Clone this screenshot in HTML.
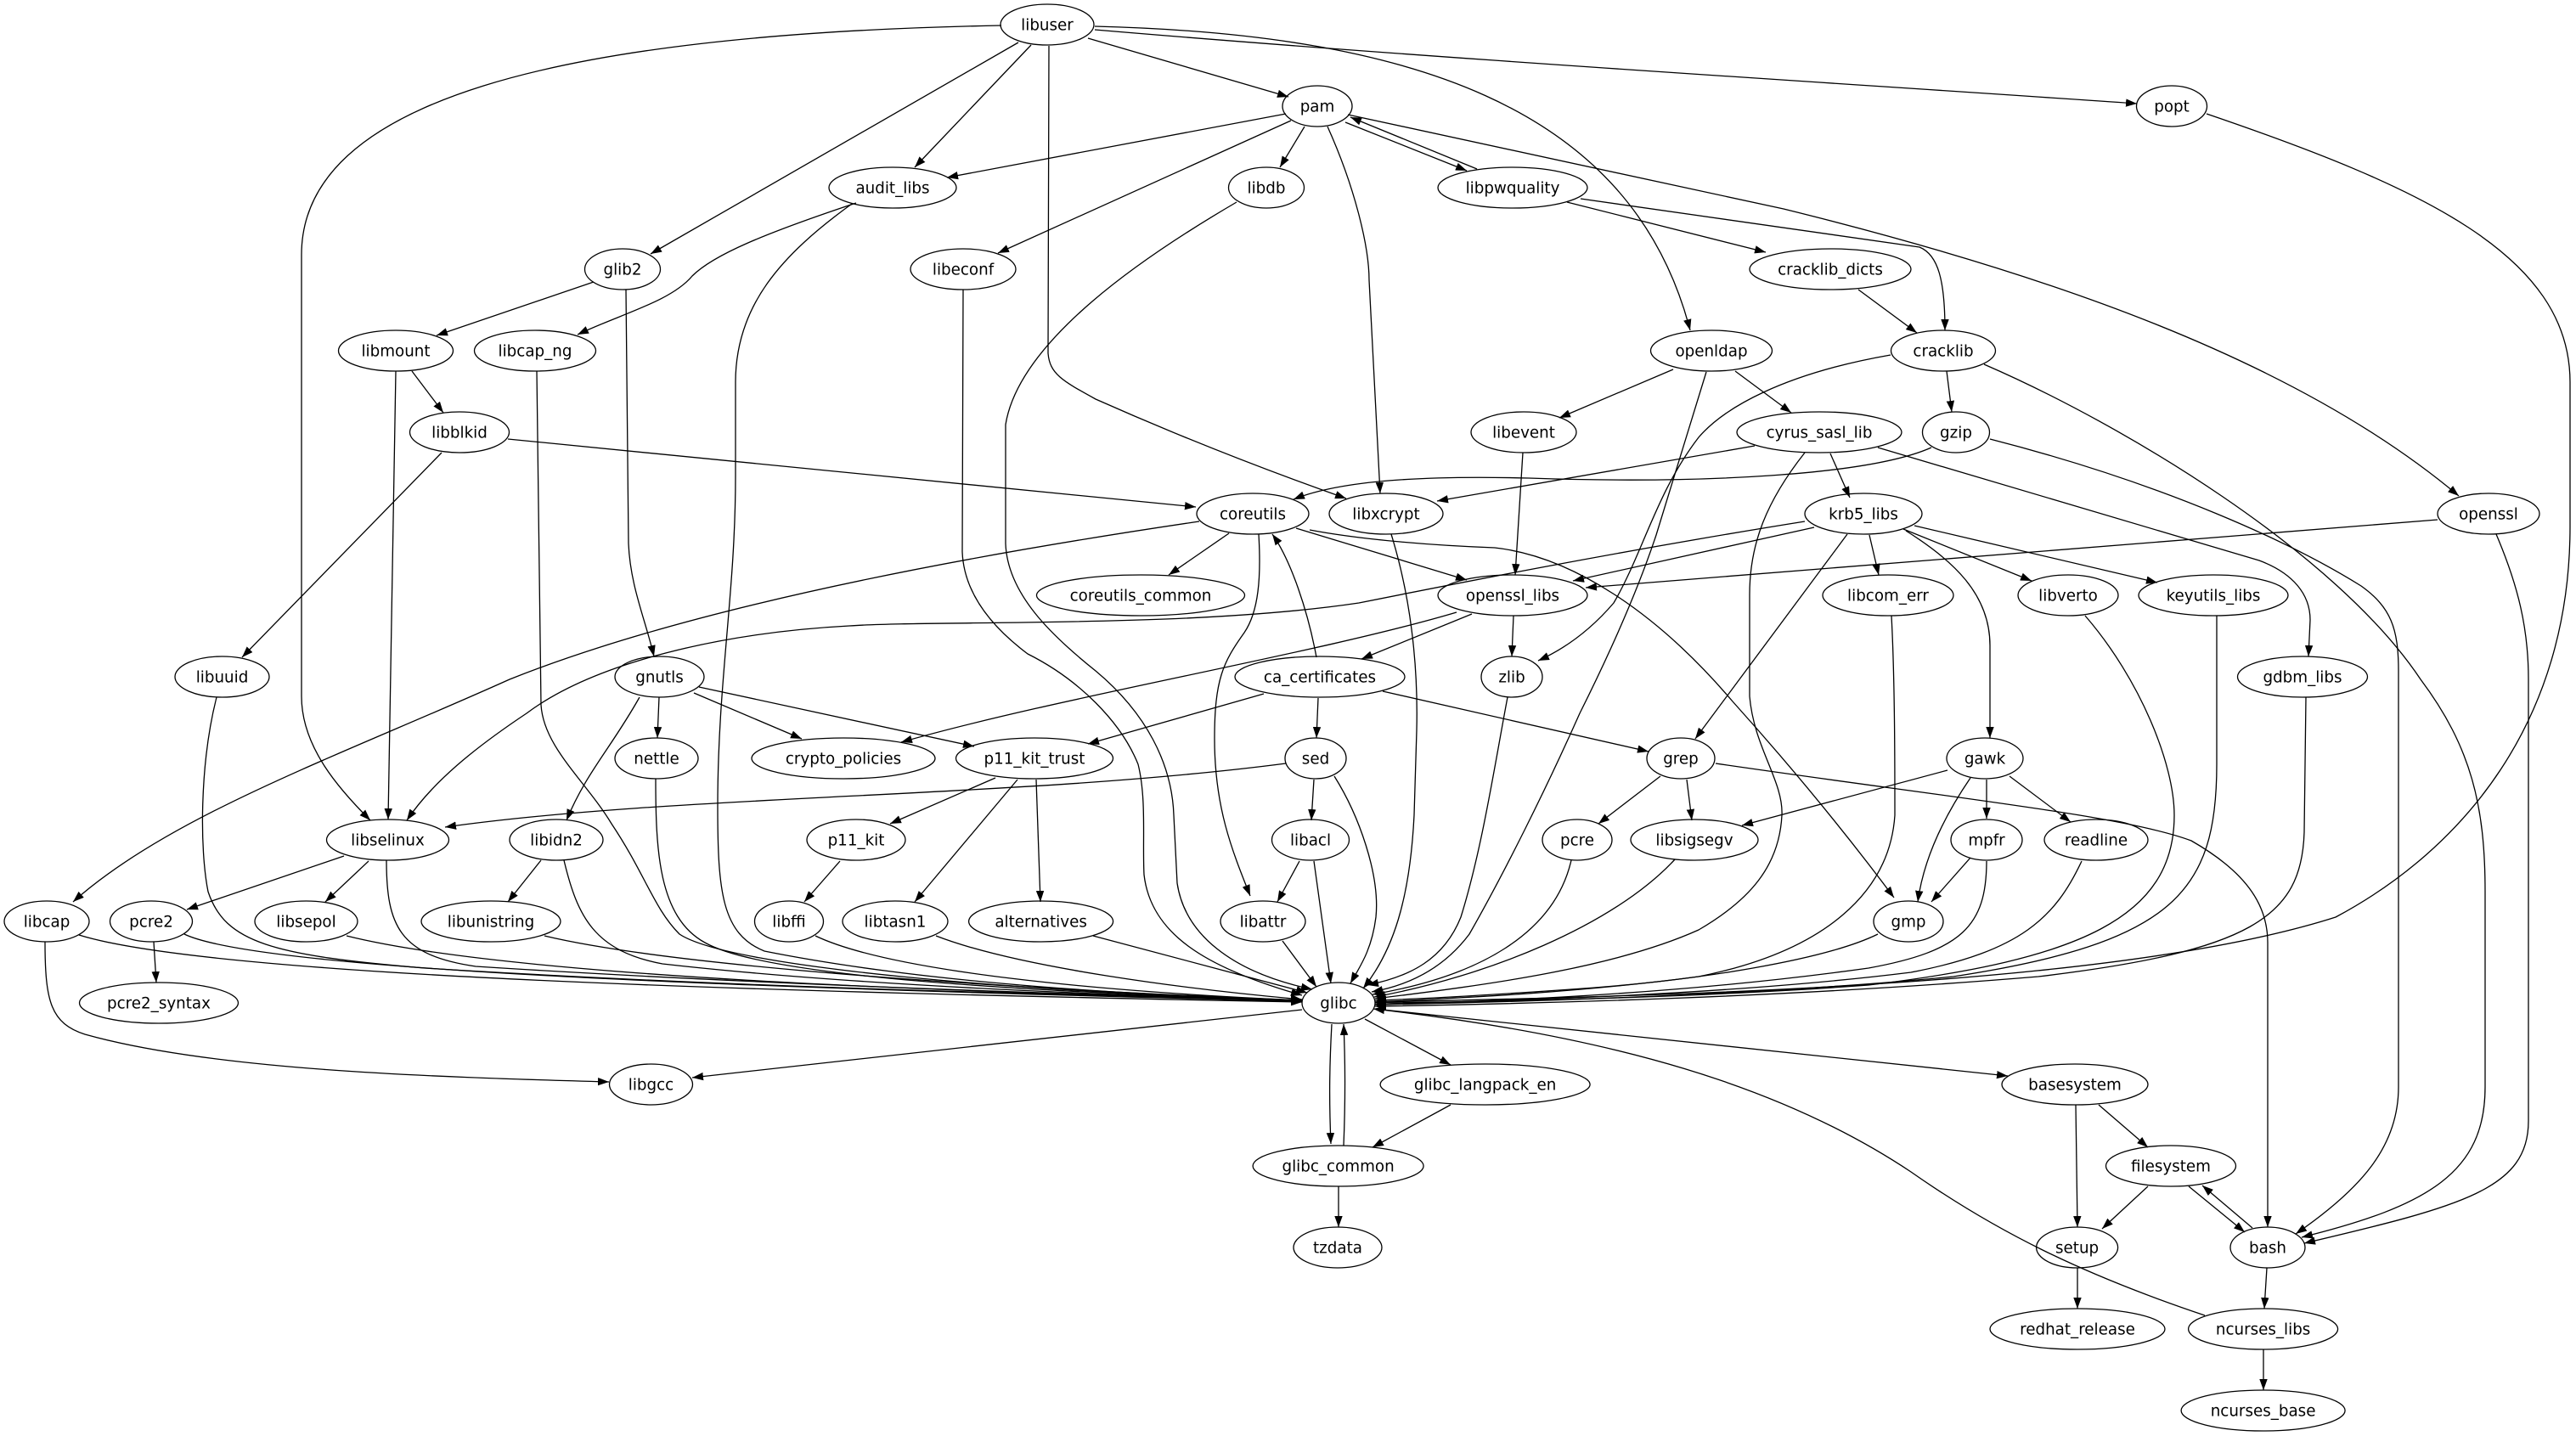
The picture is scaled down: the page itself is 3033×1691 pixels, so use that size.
<!DOCTYPE html>
<html><head><meta charset="utf-8"><style>
html,body{margin:0;padding:0;background:#fff;}
svg{display:block;}
text{font-family:"DejaVu Sans","Liberation Sans",sans-serif;font-size:18.3px;fill:#000;text-anchor:middle;}
.e{fill:none;stroke:#000;stroke-width:1.3;marker-end:url(#ah);}
.n{fill:none;stroke:#000;stroke-width:1.3;}
</style></head><body>
<svg width="3033" height="1691" viewBox="0 0 3033 1691" xmlns="http://www.w3.org/2000/svg">
<defs><marker id="ah" viewBox="0 0 13 10" markerWidth="13" markerHeight="10" refX="13" refY="5" orient="auto" markerUnits="userSpaceOnUse"><path d="M0,0.3 L13,5 L0,9.7 z" fill="#000"/></marker></defs>
<rect width="3033" height="1691" fill="#fff"/>
<g>
<path class="e" d="M1281,45 L1517,114"/>
<path class="e" d="M1289,35 C1700,70 2200,100 2516,122"/>
<path class="e" d="M1214,53 L1077,197"/>
<path class="e" d="M1199,50 L766,299"/>
<path class="e" d="M1179,30 C650,40 355,120 355,300 L355,820 C355,880 400,930 436,966"/>
<path class="e" d="M1289,31 C1650,40 1920,120 1990,389"/>
<path class="e" d="M1235,54 L1234,416 C1236,440 1250,448 1290,470 C1380,510 1480,550 1585,587"/>
<path class="e" d="M1514,134 L1115,209"/>
<path class="e" d="M1520,142 L1175,298"/>
<path class="e" d="M1536,149 L1507,197"/>
<path class="e" d="M1563,149 C1595,220 1612,290 1612,330 L1625,581"/>
<path class="e" d="M1584,144 L1727,201"/>
<path class="e" d="M1739,199 L1590,138"/>
<path class="e" d="M1587,135 L2100,246 C2400,320 2700,420 2895,584"/>
<path class="e" d="M1845,238 L2079,297"/>
<path class="e" d="M1861,234 L2260,291 C2282,300 2290,330 2290,389"/>
<path class="e" d="M1008,239 C900,275 840,300 815,325 C790,355 730,370 680,394"/>
<path class="e" d="M1003,240 C920,300 866,360 866,450 L866,560 C866,700 845,800 845,950 C845,1050 850,1100 900,1120 C1100,1160 1350,1172 1533,1178"/>
<path class="e" d="M1456,238 C1350,300 1200,400 1184,500 L1184,640 C1186,700 1240,750 1290,790 C1350,840 1380,900 1382,960 L1386,1040 C1395,1100 1450,1145 1545,1165"/>
<path class="e" d="M1134,341 L1133,650 C1135,700 1170,740 1210,770 C1270,800 1320,850 1340,900 C1350,940 1345,990 1347,1030 C1355,1100 1420,1140 1533,1172"/>
<path class="e" d="M255,821 C235,900 235,1000 245,1050 C265,1110 320,1125 500,1140 C900,1165 1300,1172 1533,1178"/>
<path class="e" d="M93,1101 C250,1150 900,1168 1533,1180"/>
<path class="e" d="M53,1109 C53,1180 60,1205 100,1218 C250,1260 500,1268 717,1274"/>
<path class="e" d="M217,1100 C300,1140 800,1162 1533,1179"/>
<path class="e" d="M181,1109 L184,1157"/>
<path class="e" d="M455,1013 C455,1090 470,1125 560,1138 C900,1160 1300,1172 1533,1178"/>
<path class="e" d="M405,1008 L220,1071"/>
<path class="e" d="M434,1014 L383,1062"/>
<path class="e" d="M408,1102 C600,1150 1100,1168 1533,1178"/>
<path class="e" d="M637,1013 L598,1062"/>
<path class="e" d="M664,1013 C680,1080 700,1120 780,1135 C1000,1160 1300,1172 1533,1178"/>
<path class="e" d="M641,1102 C800,1140 1200,1165 1533,1178"/>
<path class="e" d="M632,437 L637,830 C640,880 690,920 720,970 C760,1030 770,1070 800,1100 C860,1140 1200,1168 1533,1178"/>
<path class="e" d="M737,341 L740,640 C742,690 760,730 770,773"/>
<path class="e" d="M776,821 L774,869"/>
<path class="e" d="M753,821 C720,880 690,910 667,966"/>
<path class="e" d="M817,816 L944,870"/>
<path class="e" d="M823,809 L1147,879"/>
<path class="e" d="M772,917 C772,1000 775,1080 830,1110 C900,1150 1200,1168 1533,1178"/>
<path class="e" d="M466,437 L457,965"/>
<path class="e" d="M485,437 L522,486"/>
<path class="e" d="M699,332 L514,395"/>
<path class="e" d="M520,533 L285,774"/>
<path class="e" d="M598,517 L1408,597"/>
<path class="e" d="M1715,721 C1550,770 1250,820 1061,874"/>
<path class="e" d="M1172,916 L1048,970"/>
<path class="e" d="M1198,918 L1077,1062"/>
<path class="e" d="M1220,918 L1225,1062"/>
<path class="e" d="M989,1014 L947,1062"/>
<path class="e" d="M960,1102 C1050,1145 1300,1168 1533,1178"/>
<path class="e" d="M1102,1102 C1200,1140 1400,1165 1533,1177"/>
<path class="e" d="M1287,1102 L1539,1169"/>
<path class="e" d="M1510,1108 L1550,1162"/>
<path class="e" d="M1530,1014 L1504,1062"/>
<path class="e" d="M1547,1014 L1567,1158"/>
<path class="e" d="M1547,918 L1544,966"/>
<path class="e" d="M1571,914 C1600,960 1625,1030 1620,1080 C1615,1120 1600,1140 1590,1158"/>
<path class="e" d="M1514,899 C1200,940 800,935 524,974"/>
<path class="e" d="M1552,822 L1550,869"/>
<path class="e" d="M1488,817 L1281,876"/>
<path class="e" d="M1628,814 L1941,885"/>
<path class="e" d="M1550,774 C1540,720 1520,660 1498,629"/>
<path class="e" d="M1447,628 L1376,677"/>
<path class="e" d="M1526,622 L1727,683"/>
<path class="e" d="M1482,629 C1485,680 1482,720 1465,745 C1440,780 1430,800 1430,870 C1430,950 1450,1000 1472,1055"/>
<path class="e" d="M1412,614 C1100,660 800,720 600,800 C400,890 200,960 86,1062"/>
<path class="e" d="M1542,624 C1600,635 1680,642 1760,645 C1850,655 1950,720 2040,826 C2120,915 2180,990 2230,1057"/>
<path class="e" d="M1638,629 C1660,700 1670,780 1668,860 L1665,960 C1660,1060 1640,1120 1605,1164"/>
<path class="e" d="M2009,438 L1950,630 C1930,690 1900,760 1860,840 C1820,930 1770,1030 1730,1100 C1700,1140 1660,1160 1615,1168"/>
<path class="e" d="M2226,418 C2100,440 2030,480 2000,515 C1950,580 1935,650 1900,710 C1870,745 1840,765 1811,778"/>
<path class="e" d="M1793,533 L1784,677"/>
<path class="e" d="M1970,435 L1836,492"/>
<path class="e" d="M2043,437 L2109,486"/>
<path class="e" d="M2188,341 L2257,392"/>
<path class="e" d="M2292,437 L2298,485"/>
<path class="e" d="M2336,429 C2500,500 2750,650 2850,800 C2910,880 2926,950 2926,1050 L2926,1280 C2926,1380 2860,1420 2710,1457"/>
<path class="e" d="M2343,517 C2550,570 2700,640 2780,690 C2815,715 2824,740 2824,790 L2824,1280 C2824,1350 2780,1400 2703,1453"/>
<path class="e" d="M2939,629 C2965,690 2977,740 2977,800 L2977,1320 C2977,1400 2900,1420 2713,1464"/>
<path class="e" d="M2020,899 C2300,940 2500,960 2580,990 C2650,1030 2670,1070 2670,1110 L2670,1445"/>
<path class="e" d="M2598,134 C2850,220 3026,300 3026,450 L3026,620 C3026,850 2900,1000 2750,1080 C2500,1160 2000,1172 1619,1180"/>
<path class="e" d="M2211,527 L2660,660 C2700,675 2720,700 2720,730 L2718,773"/>
<path class="e" d="M2066,525 L1692,590"/>
<path class="e" d="M2155,534 L2178,586"/>
<path class="e" d="M2125,533 C2080,590 2060,640 2060,700 L2060,820 C2065,880 2100,920 2098,960 C2095,1020 2060,1060 2000,1095 C1900,1140 1750,1160 1619,1176"/>
<path class="e" d="M2274,527 C2200,560 2000,570 1800,563 C1680,560 1580,565 1523,588"/>
<path class="e" d="M2136,621 L1852,684"/>
<path class="e" d="M2125,614 C1900,650 1700,690 1600,710 C1400,740 1100,730 1000,737 C850,745 700,780 620,840 C560,880 510,920 479,966"/>
<path class="e" d="M2870,612 L1867,692"/>
<path class="e" d="M2201,630 L2212,677"/>
<path class="e" d="M2241,623 L2392,684"/>
<path class="e" d="M2254,619 L2540,686"/>
<path class="e" d="M2244,625 C2300,660 2343,700 2343,760 L2343,869"/>
<path class="e" d="M2175,629 L1996,870"/>
<path class="e" d="M2227,725 C2231,800 2231,900 2231,960 C2225,1050 2150,1120 2000,1150 C1850,1170 1700,1176 1619,1180"/>
<path class="e" d="M2455,725 C2520,800 2560,900 2560,960 C2560,1080 2450,1130 2200,1160 C2000,1175 1750,1180 1619,1181"/>
<path class="e" d="M2610,725 L2610,900 C2610,1050 2560,1110 2300,1150 C2100,1170 1800,1180 1619,1183"/>
<path class="e" d="M2715,821 L2713,980 C2710,1080 2650,1120 2400,1150 C2100,1175 1800,1182 1619,1185"/>
<path class="e" d="M2293,907 L2051,972"/>
<path class="e" d="M2320,916 C2290,960 2265,1010 2258,1062"/>
<path class="e" d="M2339,918 L2339,964"/>
<path class="e" d="M2366,914 L2438,968"/>
<path class="e" d="M2320,1010 L2274,1062"/>
<path class="e" d="M2339,1014 C2339,1090 2310,1120 2200,1140 C2000,1168 1800,1178 1619,1183"/>
<path class="e" d="M2451,1014 C2420,1080 2380,1120 2250,1145 C2050,1170 1800,1178 1619,1183"/>
<path class="e" d="M2211,1100 C2150,1130 2000,1155 1850,1165 C1750,1172 1680,1176 1619,1178"/>
<path class="e" d="M1955,914 L1882,970"/>
<path class="e" d="M1986,918 L1992,966"/>
<path class="e" d="M1850,1013 C1830,1100 1740,1150 1616,1171"/>
<path class="e" d="M1972,1012 C1900,1090 1750,1150 1618,1174"/>
<path class="e" d="M1775,821 C1760,900 1745,1000 1720,1080 C1700,1130 1660,1150 1610,1160"/>
<path class="e" d="M1782,725 L1780,773"/>
<path class="e" d="M1733,723 L1603,776"/>
<path class="e" d="M1533,1189 L815,1269"/>
<path class="e" d="M1568,1206 C1565,1260 1565,1300 1567,1347"/>
<path class="e" d="M1582,1349 C1584,1300 1584,1250 1582,1206"/>
<path class="e" d="M1607,1200 L1708,1254"/>
<path class="e" d="M1708,1301 L1616,1351"/>
<path class="e" d="M1576,1397 L1576,1445"/>
<path class="e" d="M1628,1189 L2364,1267"/>
<path class="e" d="M2596,1549 C2450,1500 2350,1450 2250,1380 C2100,1280 1900,1220 1617,1188"/>
<path class="e" d="M2471,1301 L2529,1351"/>
<path class="e" d="M2444,1301 L2446,1445"/>
<path class="e" d="M2529,1397 L2475,1447"/>
<path class="e" d="M2577,1397 L2643,1451"/>
<path class="e" d="M2652,1446 L2593,1396"/>
<path class="e" d="M2446,1493 L2446,1541"/>
<path class="e" d="M2669,1493 L2666,1541"/>
<path class="e" d="M2665,1589 L2665,1637"/>
</g>
<g>
<ellipse class="n" cx="1233" cy="29" rx="55" ry="24"/><text x="1233" y="35.5">libuser</text>
<ellipse class="n" cx="1551" cy="125" rx="41" ry="24"/><text x="1551" y="131.5">pam</text>
<ellipse class="n" cx="2557" cy="125" rx="41.5" ry="24"/><text x="2557" y="131.5">popt</text>
<ellipse class="n" cx="1051" cy="221" rx="75" ry="24"/><text x="1051" y="227.5">audit_libs</text>
<ellipse class="n" cx="1491" cy="221" rx="44.5" ry="24"/><text x="1491" y="227.5">libdb</text>
<ellipse class="n" cx="1781" cy="221" rx="88" ry="24"/><text x="1781" y="227.5">libpwquality</text>
<ellipse class="n" cx="733" cy="317" rx="44.5" ry="24"/><text x="733" y="323.5">glib2</text>
<ellipse class="n" cx="1134" cy="317" rx="62" ry="24"/><text x="1134" y="323.5">libeconf</text>
<ellipse class="n" cx="2155" cy="317" rx="95" ry="24"/><text x="2155" y="323.5">cracklib_dicts</text>
<ellipse class="n" cx="466" cy="413" rx="67.5" ry="24"/><text x="466" y="419.5">libmount</text>
<ellipse class="n" cx="630" cy="413" rx="71.5" ry="24"/><text x="630" y="419.5">libcap_ng</text>
<ellipse class="n" cx="2015" cy="413" rx="71.5" ry="24"/><text x="2015" y="419.5">openldap</text>
<ellipse class="n" cx="2288" cy="413" rx="61.5" ry="24"/><text x="2288" y="419.5">cracklib</text>
<ellipse class="n" cx="541" cy="509" rx="58.5" ry="24"/><text x="541" y="515.5">libblkid</text>
<ellipse class="n" cx="1794" cy="509" rx="62" ry="24"/><text x="1794" y="515.5">libevent</text>
<ellipse class="n" cx="2142" cy="509" rx="97" ry="24"/><text x="2142" y="515.5">cyrus_sasl_lib</text>
<ellipse class="n" cx="2303" cy="509" rx="39.5" ry="24"/><text x="2303" y="515.5">gzip</text>
<ellipse class="n" cx="1475" cy="605" rx="66" ry="24"/><text x="1475" y="611.5">coreutils</text>
<ellipse class="n" cx="1632" cy="605" rx="67" ry="24"/><text x="1632" y="611.5">libxcrypt</text>
<ellipse class="n" cx="2194" cy="605" rx="69" ry="24"/><text x="2194" y="611.5">krb5_libs</text>
<ellipse class="n" cx="2930" cy="605" rx="60" ry="24"/><text x="2930" y="611.5">openssl</text>
<ellipse class="n" cx="1343" cy="701" rx="122.5" ry="24"/><text x="1343" y="707.5">coreutils_common</text>
<ellipse class="n" cx="1781" cy="701" rx="88" ry="24"/><text x="1781" y="707.5">openssl_libs</text>
<ellipse class="n" cx="2223" cy="701" rx="77" ry="24"/><text x="2223" y="707.5">libcom_err</text>
<ellipse class="n" cx="2435" cy="701" rx="59" ry="24"/><text x="2435" y="707.5">libverto</text>
<ellipse class="n" cx="2606" cy="701" rx="88" ry="24"/><text x="2606" y="707.5">keyutils_libs</text>
<ellipse class="n" cx="261.5" cy="797" rx="55.5" ry="24"/><text x="261.5" y="803.5">libuuid</text>
<ellipse class="n" cx="776.5" cy="797" rx="52.5" ry="24"/><text x="776.5" y="803.5">gnutls</text>
<ellipse class="n" cx="1554" cy="797" rx="100" ry="24"/><text x="1554" y="803.5">ca_certificates</text>
<ellipse class="n" cx="1780" cy="797" rx="36" ry="24"/><text x="1780" y="803.5">zlib</text>
<ellipse class="n" cx="2711" cy="797" rx="76.5" ry="24"/><text x="2711" y="803.5">gdbm_libs</text>
<ellipse class="n" cx="773" cy="893" rx="49" ry="24"/><text x="773" y="899.5">nettle</text>
<ellipse class="n" cx="993" cy="893" rx="108" ry="24"/><text x="993" y="899.5">crypto_policies</text>
<ellipse class="n" cx="1218" cy="893" rx="92.5" ry="24"/><text x="1218" y="899.5">p11_kit_trust</text>
<ellipse class="n" cx="1549" cy="893" rx="36" ry="24"/><text x="1549" y="899.5">sed</text>
<ellipse class="n" cx="1979" cy="893" rx="40" ry="24"/><text x="1979" y="899.5">grep</text>
<ellipse class="n" cx="2337" cy="893" rx="45" ry="24"/><text x="2337" y="899.5">gawk</text>
<ellipse class="n" cx="456.5" cy="989" rx="72" ry="24"/><text x="456.5" y="995.5">libselinux</text>
<ellipse class="n" cx="655" cy="989" rx="55" ry="24"/><text x="655" y="995.5">libidn2</text>
<ellipse class="n" cx="1008" cy="989" rx="58" ry="24"/><text x="1008" y="995.5">p11_kit</text>
<ellipse class="n" cx="1543" cy="989" rx="45.5" ry="24"/><text x="1543" y="995.5">libacl</text>
<ellipse class="n" cx="1857" cy="989" rx="41" ry="24"/><text x="1857" y="995.5">pcre</text>
<ellipse class="n" cx="1995" cy="989" rx="75" ry="24"/><text x="1995" y="995.5">libsigsegv</text>
<ellipse class="n" cx="2339" cy="989" rx="42" ry="24"/><text x="2339" y="995.5">mpfr</text>
<ellipse class="n" cx="2468" cy="989" rx="61" ry="24"/><text x="2468" y="995.5">readline</text>
<ellipse class="n" cx="55" cy="1085" rx="50" ry="24"/><text x="55" y="1091.5">libcap</text>
<ellipse class="n" cx="178" cy="1085" rx="48.5" ry="24"/><text x="178" y="1091.5">pcre2</text>
<ellipse class="n" cx="360.5" cy="1085" rx="60.5" ry="24"/><text x="360.5" y="1091.5">libsepol</text>
<ellipse class="n" cx="578" cy="1085" rx="82" ry="24"/><text x="578" y="1091.5">libunistring</text>
<ellipse class="n" cx="929" cy="1085" rx="40.5" ry="24"/><text x="929" y="1091.5">libffi</text>
<ellipse class="n" cx="1054" cy="1085" rx="62" ry="24"/><text x="1054" y="1091.5">libtasn1</text>
<ellipse class="n" cx="1225.6" cy="1085" rx="85" ry="24"/><text x="1225.6" y="1091.5">alternatives</text>
<ellipse class="n" cx="1487" cy="1085" rx="50" ry="24"/><text x="1487" y="1091.5">libattr</text>
<ellipse class="n" cx="2247" cy="1085" rx="41" ry="24"/><text x="2247" y="1091.5">gmp</text>
<ellipse class="n" cx="1576" cy="1181" rx="43" ry="24"/><text x="1576" y="1187.5">glibc</text>
<ellipse class="n" cx="187" cy="1181" rx="93.5" ry="24"/><text x="187" y="1187.5">pcre2_syntax</text>
<ellipse class="n" cx="766.5" cy="1277" rx="49" ry="24"/><text x="766.5" y="1283.5">libgcc</text>
<ellipse class="n" cx="1748.6" cy="1277" rx="123.5" ry="24"/><text x="1748.6" y="1283.5">glibc_langpack_en</text>
<ellipse class="n" cx="2443" cy="1277" rx="86" ry="24"/><text x="2443" y="1283.5">basesystem</text>
<ellipse class="n" cx="1575.6" cy="1373" rx="100.5" ry="24"/><text x="1575.6" y="1379.5">glibc_common</text>
<ellipse class="n" cx="2556" cy="1373" rx="76.5" ry="24"/><text x="2556" y="1379.5">filesystem</text>
<ellipse class="n" cx="1575" cy="1469" rx="52" ry="24"/><text x="1575" y="1475.5">tzdata</text>
<ellipse class="n" cx="2445.6" cy="1469" rx="48" ry="24"/><text x="2445.6" y="1475.5">setup</text>
<ellipse class="n" cx="2670" cy="1469" rx="44" ry="24"/><text x="2670" y="1475.5">bash</text>
<ellipse class="n" cx="2446" cy="1565" rx="103" ry="24"/><text x="2446" y="1571.5">redhat_release</text>
<ellipse class="n" cx="2664.6" cy="1565" rx="88" ry="24"/><text x="2664.6" y="1571.5">ncurses_libs</text>
<ellipse class="n" cx="2664.6" cy="1661" rx="96.5" ry="24"/><text x="2664.6" y="1667.5">ncurses_base</text>
</g>
</svg>
</body></html>
